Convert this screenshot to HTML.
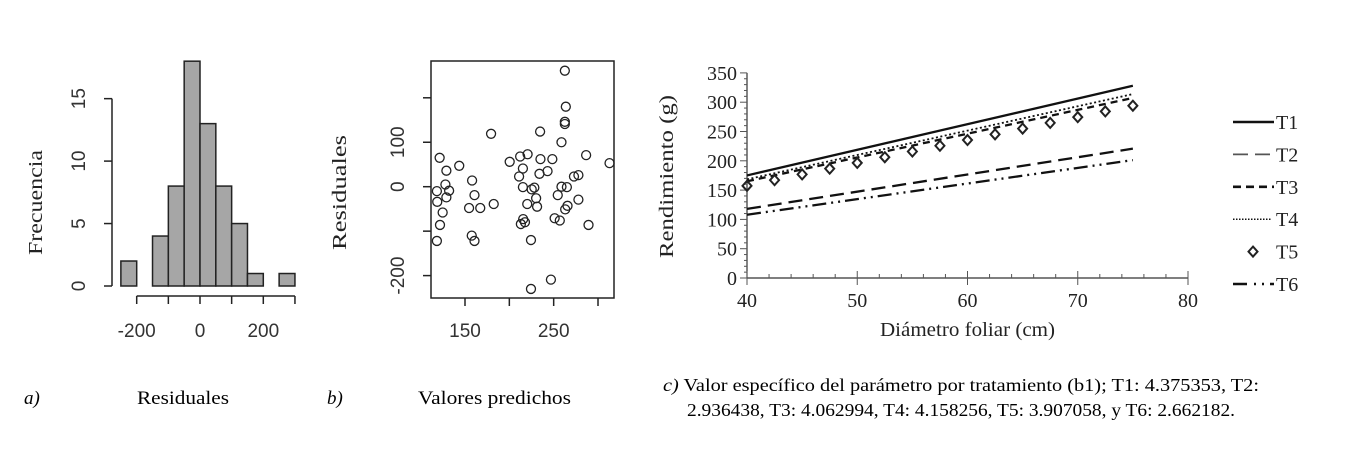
<!DOCTYPE html>
<html><head><meta charset="utf-8"><style>
html,body{margin:0;padding:0;background:#fff;}
svg{display:block;}
.sans{font-family:"Liberation Sans",sans-serif;}
.serif{font-family:"Liberation Serif",serif;}
</style></head><body>
<svg id="fig" width="1346" height="449" viewBox="0 0 1346 449" xmlns="http://www.w3.org/2000/svg">
<g id="pa"></g>
<g id="pb"></g>
<g id="pc"></g>
<text class="serif" x="24" y="404" font-size="19" font-style="italic">a)</text>
<text class="serif" x="137" y="404" font-size="19" textLength="92" lengthAdjust="spacingAndGlyphs">Residuales</text>
<text class="serif" x="327" y="404" font-size="19" font-style="italic">b)</text>
<text class="serif" x="418" y="404" font-size="19" textLength="153" lengthAdjust="spacingAndGlyphs">Valores predichos</text>
<text class="serif" x="663" y="391" font-size="18" textLength="596" lengthAdjust="spacingAndGlyphs"><tspan font-style="italic">c)</tspan> Valor específico del parámetro por tratamiento (b1); T1: 4.375353, T2:</text>
<text class="serif" x="961" y="416" font-size="18" text-anchor="middle" textLength="548" lengthAdjust="spacingAndGlyphs">2.936438, T3: 4.062994, T4: 4.158256, T5: 3.907058, y T6: 2.662182.</text>
</svg>
<script>
// ---------- Panel a data ----------
const histBinStarts = [-250,-200,-150,-100,-50,0,50,100,150,200,250];
const histCounts = [2,0,4,8,18,13,8,5,1,0,1];
const histXTicks = [-200,-100,0,100,200,300];
const histXLabels = [-200,0,200];
const histYTicks = [0,5,10,15];
// ---------- Panel b data ----------
const predX = [262.6,263.7,262.6,262.6,234.7,179.4,258.8,121.4,212.2,220.6,235.1,248.5,286.6,313,200.4,143.5,129,215.3,243.1,234,211,272.9,277.9,158,127.9,118.3,132.1,129,118.7,124.8,121.8,118.3,215.3,225.2,228.2,230.2,231.3,220.2,182.4,167.2,154.6,160.7,157.6,160.7,254.6,258.8,264.9,265.6,263,277.9,251.1,256.9,215.6,213,217.6,289.3,224.4,246.9,224.4];
const residY = [261,180,146,141,124,119,100,65,68,73,62,62,71,53,56,47,36,41,35,29,23,23,26,14,5,-10,-9,-24,-34,-58,-86,-122,-1,-6,-2,-26,-45,-39,-39,-48,-48,-19,-110,-122,-19,0,-1,-43,-51,-29,-71,-76,-73,-84,-80,-86,-120,-209,-230];
const scatXTicks = [150,200,250,300];
const scatXLabels = [150,250];
const scatYTicks = [-200,-100,0,100,200];
const scatYLabels = [-200,0,100];
// ---------- Panel c data ----------
const treatments = ["T1","T2","T3","T4","T5","T6"];
const slopes = [4.375353,2.936438,4.062994,4.158256,3.907058,2.662182];
const intercepts = [0,0.5,2.5,2,1,1.5];
const lineX0 = 40, lineX1 = 75;
const t5X = [40,42.5,45,47.5,50,52.5,55,57.5,60,62.5,65,67.5,70,72.5,75];
const lineYTicks = [0,50,100,150,200,250,300,350];
const lineXTicks = [40,50,60,70,80];

const NS="http://www.w3.org/2000/svg";
function mk(parent,tag,attrs){const e=document.createElementNS(NS,tag);for(const k in attrs)e.setAttribute(k,attrs[k]);parent.appendChild(e);return e;}

// ===== Panel a =====
(function(){
 const g=document.getElementById('pa');
 const xs=v=>200+(v)*0.3165, ys=v=>286-v*12.49;
 histBinStarts.forEach((b,i)=>{
  const r=mk(g,'rect',{x:xs(b),y:ys(histCounts[i]),width:xs(b+50)-xs(b),height:ys(0)-ys(histCounts[i]),fill:'#a6a6a6',stroke:'#222','stroke-width':1.5});
  
  
 });
 const ax=mk(g,'line',{x1:112,x2:112,y1:ys(0),y2:ys(15),stroke:'#222','stroke-width':1.5});
 
 
 histYTicks.forEach(v=>{
  const t=mk(g,'line',{x1:104,x2:112,y1:ys(v),y2:ys(v),stroke:'#222','stroke-width':1.5});
  
  
  const l=mk(g,'text',{x:0,y:0,transform:`translate(85,${ys(v)}) rotate(-90)`,'text-anchor':'middle','font-size':19,class:'sans',fill:'#333'});
  l.textContent=v;
  
  
 });
 const bx=mk(g,'line',{x1:xs(-200),x2:xs(300),y1:296,y2:296,stroke:'#222','stroke-width':1.5});
 
 
 histXTicks.forEach(v=>{
  const t=mk(g,'line',{x1:xs(v),x2:xs(v),y1:296,y2:304,stroke:'#222','stroke-width':1.5});
  
  
 });
 histXLabels.forEach(v=>{
  const l=mk(g,'text',{x:xs(v),y:337,'text-anchor':'middle','font-size':19,class:'sans',fill:'#333'});
  l.textContent=v;
  
  
 });
 const yt=mk(g,'text',{x:0,y:0,transform:'translate(42,255) rotate(-90)','font-size':20,class:'serif',fill:'#222',textLength:105,lengthAdjust:'spacingAndGlyphs'});
 yt.textContent='Frecuencia';
 
 
})();

// ===== Panel b =====
(function(){
 const g=document.getElementById('pb');
 const xs=v=>465+(v-150)*0.8867, ys=v=>186.7-v*0.4445;
 const box=mk(g,'rect',{x:431,y:61,width:183,height:237,fill:'none',stroke:'#222','stroke-width':1.5});
 
 
 predX.forEach((x,i)=>{
  const c=mk(g,'circle',{cx:xs(x),cy:ys(residY[i]),r:4.5,fill:'none',stroke:'#222','stroke-width':1.3});
  
  
 });
 scatYTicks.forEach(v=>{
  const t=mk(g,'line',{x1:423,x2:431,y1:ys(v),y2:ys(v),stroke:'#222','stroke-width':1.5});
  
  
 });
 scatYLabels.forEach(v=>{
  const l=mk(g,'text',{x:0,y:0,transform:`translate(404,${ys(v)}) rotate(-90)`,'text-anchor':'middle','font-size':19,class:'sans',fill:'#333'});
  l.textContent=v;
  
  
 });
 scatXTicks.forEach(v=>{
  const t=mk(g,'line',{x1:xs(v),x2:xs(v),y1:298,y2:306,stroke:'#222','stroke-width':1.5});
  
  
 });
 scatXLabels.forEach(v=>{
  const l=mk(g,'text',{x:xs(v),y:337,'text-anchor':'middle','font-size':19,class:'sans',fill:'#333'});
  l.textContent=v;
  
  
 });
 const yt=mk(g,'text',{x:0,y:0,transform:'translate(346,250) rotate(-90)','font-size':20,class:'serif',fill:'#222',textLength:115,lengthAdjust:'spacingAndGlyphs'});
 yt.textContent='Residuales';
 
 
})();

// ===== Panel c =====
(function(){
 const g=document.getElementById('pc');
 const xs=v=>747+(v-40)*11.025, ys=v=>278-v*0.586;
 const dashes=['', '14 7', '7 5', '2 2.5', '', '14 5 2 5 2 5'];
 const ya=mk(g,'line',{x1:747,x2:747,y1:ys(0),y2:ys(350),stroke:'#333','stroke-width':1.2});
 
 
 for(let v=0;v<=350;v+=10){
  const major=v%50===0;
  const t=mk(g,'line',{x1:major?740:744,x2:747,y1:ys(v),y2:ys(v),stroke:'#555','stroke-width':1});
  
  
 }
 lineYTicks.forEach(v=>{
  const l=mk(g,'text',{x:737,y:ys(v)+7,'text-anchor':'end','font-size':20,class:'serif',fill:'#222'});
  l.textContent=v;
  
  
 });
 const xa=mk(g,'line',{x1:xs(40),x2:xs(80),y1:278,y2:278,stroke:'#333','stroke-width':1.2});
 
 
 for(let v=40;v<=80;v+=2){
  const major=v%10===0;
  const t=mk(g,'line',{x1:xs(v),x2:xs(v),y1:major?271:274,y2:major?285:278,stroke:'#555','stroke-width':1});
  
  
 }
 lineXTicks.forEach(v=>{
  const l=mk(g,'text',{x:xs(v),y:307,'text-anchor':'middle','font-size':20,class:'serif',fill:'#222'});
  l.textContent=v;
  
  
 });
 treatments.forEach((t,i)=>{
  if(i===4){
   t5X.forEach(x=>{
    const y=ys(intercepts[i]+slopes[i]*x);
    const d=mk(g,'polygon',{points:`${xs(x)},${y-5} ${xs(x)+4.5},${y} ${xs(x)},${y+5} ${xs(x)-4.5},${y}`,fill:'none',stroke:'#222','stroke-width':2});
    
    
   });
  } else {
   const a={x1:xs(lineX0),x2:xs(lineX1),y1:ys(intercepts[i]+slopes[i]*lineX0),y2:ys(intercepts[i]+slopes[i]*lineX1),stroke:'#111','stroke-width':i===3?1.8:2.3};
   if(dashes[i])a['stroke-dasharray']=dashes[i];
   const l=mk(g,'line',a);
   
   
  }
  const ly=122+i*32.4;
  if(i===4){
   const d=mk(g,'polygon',{points:`1253,${ly-5} 1257.5,${ly} 1253,${ly+5} 1248.5,${ly}`,fill:'none',stroke:'#222','stroke-width':2});
   
   
  } else {
   const a={x1:1233,x2:i===3?1271:1274,y1:ly,y2:ly,stroke:i===1?'#555':'#111','stroke-width':i===3?1.5:(i===1?1.8:2.6)};
   if(i===1)a['stroke-dasharray']='15 7';
   if(i===2)a['stroke-dasharray']='8 5';
   if(i===3)a['stroke-dasharray']='1.5 1.5';
   if(i===5)a['stroke-dasharray']='14 7 2 6 2 6';
   const l=mk(g,'line',a);
   
   
  }
  const tx=mk(g,'text',{x:1276,y:ly+7,'font-size':20,class:'serif',fill:'#222'});
  tx.textContent=t;
  
  
 });
 const xt=mk(g,'text',{x:880,y:336,'font-size':20,class:'serif',fill:'#222',textLength:175,lengthAdjust:'spacingAndGlyphs'});
 xt.textContent='Diámetro foliar (cm)';
 
 
 const yt=mk(g,'text',{x:0,y:0,transform:'translate(673,258) rotate(-90)','font-size':20,class:'serif',fill:'#222',textLength:163,lengthAdjust:'spacingAndGlyphs'});
 yt.textContent='Rendimiento (g)';
 
 
})();
</script>
</body></html>
